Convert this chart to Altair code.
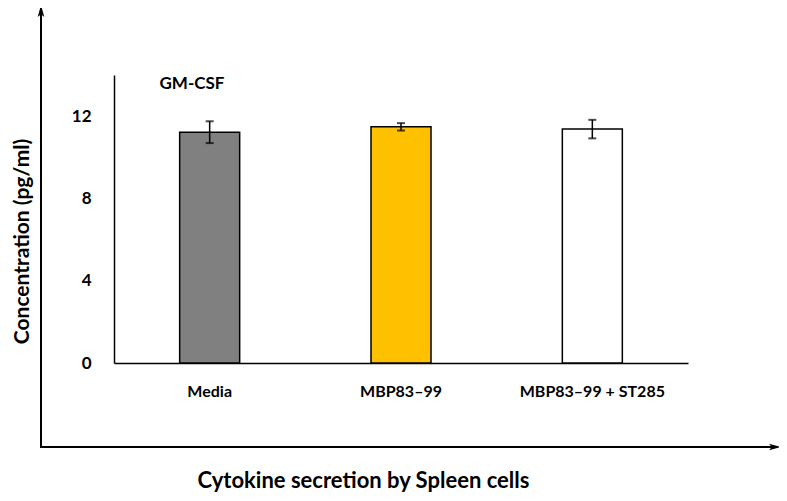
import altair as alt
import pandas as pd

groups = ["Media", "MBP83–99", "MBP83–99 + ST285"]
means = [11.22, 11.48, 11.37]
errors = [0.53, 0.18, 0.45]
bar_colors = ["#808080", "#FFC000", "#FFFFFF"]
y_ticks = [0, 4, 8, 12]

df = pd.DataFrame({
    "group": groups,
    "mean": means,
    "lo": [m - e for m, e in zip(means, errors)],
    "hi": [m + e for m, e in zip(means, errors)],
})
deco = pd.DataFrame({"a": [0]})

FONT = "Lato"
W, H = 574, 288

x_enc = alt.X(
    "group:N",
    sort=groups,
    scale=alt.Scale(paddingInner=0, paddingOuter=0),
    axis=alt.Axis(
        labelAngle=0, ticks=False, grid=False, domainColor="black", domainWidth=1.5,
        labelFontSize=16, labelFontWeight="bold", labelColor="black", labelPadding=20,
        labelFont=FONT,
        title="Cytokine secretion by Spleen cells", titleFont=FONT, titleFontSize=22,
        titleFontWeight="bold", titleColor="black", titleX=249, titleY=117,
        titleBaseline="middle", titleAlign="center",
    ),
)
y_scale = alt.Scale(domain=[0, 14], nice=False)

bars = alt.Chart(df).mark_bar(size=60, stroke="black", strokeWidth=1.5).encode(
    x=x_enc,
    y=alt.Y(
        "mean:Q",
        scale=y_scale,
        axis=alt.Axis(
            values=y_ticks, ticks=False, grid=False, domainColor="black", domainWidth=1.5,
            labelFontSize=17, labelFontWeight="bold", labelColor="black", labelPadding=23,
            labelFont=FONT,
            title="Concentration (pg/ml)", titleFont=FONT, titleFontSize=21,
            titleFontWeight="bold", titleColor="black", titleX=-92, titleY=166,
            titleAngle=270, titleBaseline="middle", titleAlign="center",
        ),
    ),
    color=alt.Color("group:N", sort=groups,
                    scale=alt.Scale(domain=groups, range=bar_colors), legend=None),
)

err_rule = alt.Chart(df).mark_rule(color="black", strokeWidth=1.5).encode(
    x=alt.X("group:N", sort=groups),
    y=alt.Y("lo:Q", scale=y_scale),
    y2="hi:Q",
)
cap_lo = alt.Chart(df).mark_tick(color="black", size=8, thickness=2).encode(
    x=alt.X("group:N", sort=groups), y=alt.Y("lo:Q", scale=y_scale)
)
cap_hi = alt.Chart(df).mark_tick(color="black", size=8, thickness=2).encode(
    x=alt.X("group:N", sort=groups), y=alt.Y("hi:Q", scale=y_scale)
)

title_txt = alt.Chart(deco).mark_text(
    text="GM-CSF", font=FONT, fontSize=17, fontWeight="bold", color="black",
    align="center", baseline="middle",
).encode(x=alt.value(78), y=alt.value(9))

v_line = alt.Chart(deco).mark_rule(color="black", strokeWidth=2).encode(
    x=alt.value(-73), y=alt.value(372), y2=alt.value(-66)
)
h_line = alt.Chart(deco).mark_rule(color="black", strokeWidth=2).encode(
    x=alt.value(-74), x2=alt.value(662), y=alt.value(372)
)
v_head = alt.Chart(deco).mark_point(
    shape="M0,-1 L0.55,1 L0,0.55 L-0.55,1 Z", filled=True, color="black",
    size=144, opacity=1,
).encode(x=alt.value(-73), y=alt.value(-64))
h_head = alt.Chart(deco).mark_point(
    shape="M1,0 L-1,0.55 L-0.55,0 L-1,-0.55 Z", filled=True, color="black",
    size=144, opacity=1,
).encode(x=alt.value(661), y=alt.value(372))

chart = alt.layer(
    bars, err_rule, cap_lo, cap_hi, title_txt, v_line, h_line, v_head, h_head
).properties(
    width=W, height=H,
    autosize=alt.AutoSizeParams(type="none"),
    padding={"left": 106, "top": 67, "right": 91, "bottom": 138},
    background="white",
).configure_view(stroke=None)

chart.save("out.html", embed_options={"renderer": "svg", "actions": False})
